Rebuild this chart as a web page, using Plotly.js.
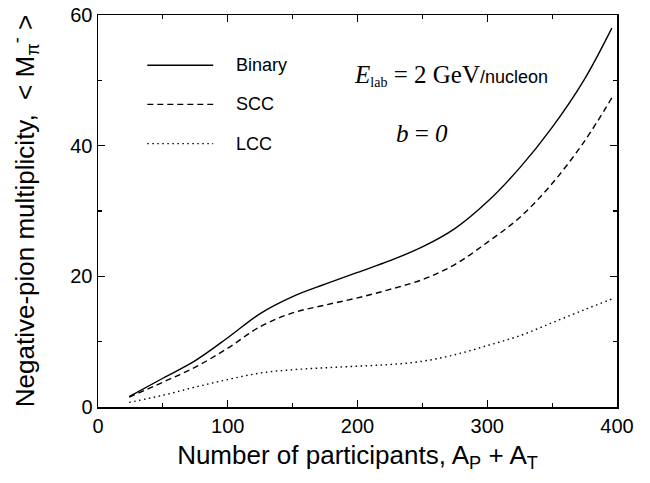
<!DOCTYPE html>
<html><head><meta charset="utf-8">
<script src="https://cdn.plot.ly/plotly-3.0.1.min.js"></script>
<style>html,body{margin:0;padding:0;background:#fff}#plot{width:650px;height:483px}</style>
</head><body><div id="plot"></div>
<script>
// Data
const binaryX = [24, 50, 75, 100, 125, 150, 175, 200, 225, 250, 275, 300, 325, 350, 375, 396];
const binaryY = [1.6, 4.4, 7.1, 10.6, 14.3, 16.9, 18.8, 20.6, 22.4, 24.5, 27.3, 31.4, 36.6, 42.8, 50.2, 58.0];
const sccX = [24, 50, 75, 100, 125, 150, 175, 200, 225, 250, 275, 300, 325, 350, 375, 396];
const sccY = [1.5, 3.8, 6.1, 9.0, 12.3, 14.4, 15.6, 16.7, 18.0, 19.5, 21.8, 25.2, 29.0, 34.2, 40.7, 47.3];
const lccX = [24, 50, 75, 100, 125, 150, 175, 200, 225, 250, 275, 300, 325, 350, 375, 397];
const lccY = [0.7, 1.8, 3.05, 4.2, 5.2, 5.7, 6.0, 6.25, 6.5, 7.0, 8.0, 9.4, 10.9, 12.9, 14.9, 16.6];
const seriesNames = ["Binary", "SCC", "LCC"];
const xTicks = [0, 100, 200, 300, 400];
const yTicks = [0, 20, 40, 60];

const dashes = ["solid", "6px,4px", "1.5px,3.5px"];
const traces = [
  {x: binaryX, y: binaryY, name: seriesNames[0]},
  {x: sccX, y: sccY, name: seriesNames[1]},
  {x: lccX, y: lccY, name: seriesNames[2]}
].map((t, i) => Object.assign(t, {
  type: "scatter", mode: "lines", showlegend: false,
  line: {color: "#000", width: 1.4, dash: dashes[i], shape: "spline", smoothing: 1}
}));

const font = "Liberation Sans, Arial, sans-serif";
// custom legend (paper coords)
const legY = [0.872, 0.772, 0.672];
const shapes = [], annotations = [];
legY.forEach((yy, i) => {
  shapes.push({type: "line", xref: "paper", yref: "paper", x0: 0.095, x1: 0.222, y0: yy, y1: yy,
    line: {color: "#000", width: 1.4, dash: dashes[i]}});
  annotations.push({xref: "paper", yref: "paper", x: 0.263, y: yy, xanchor: "left", yanchor: "middle",
    text: seriesNames[i], showarrow: false, font: {family: font, size: 18, color: "#000"}});
});
annotations.push({xref: "paper", yref: "paper", x: 0.49, y: 0.845, xanchor: "left", yanchor: "middle",
  showarrow: false,
  text: '<span style="font-family:Liberation Serif,Times New Roman,serif;font-style:italic;font-size:25px">E</span><sub><span style="font-family:Liberation Serif,serif;font-size:14px">lab</span></sub><span style="font-family:Liberation Serif,Times New Roman,serif;font-size:25px"> = 2 GeV</span><span style="font-size:18px">/nucleon</span>',
  font: {family: font, size: 18, color: "#000"}});
annotations.push({xref: "paper", yref: "paper", x: 0.624, y: 0.697, xanchor: "center", yanchor: "middle",
  showarrow: false,
  text: '<i>b</i> = <i>0</i>',
  font: {family: "Liberation Serif, Times New Roman, serif", size: 25, color: "#000"}});

const layout = {
  width: 650, height: 483,
  margin: {l: 98, r: 33, t: 15, b: 76},
  paper_bgcolor: "#fff", plot_bgcolor: "#fff",
  font: {family: font, color: "#000"},
  xaxis: {
    range: [0, 400], tickvals: xTicks, ticktext: xTicks.map(String),
    ticks: "inside", ticklen: 7, tickwidth: 1.3, tickcolor: "#000",
    minor: {ticks: "inside", tickvals: [50, 150, 250, 350], ticklen: 4, tickwidth: 1.2, tickcolor: "#000"},
    showline: true, linewidth: 1.5, linecolor: "#000", mirror: "ticks",
    showgrid: false, zeroline: false,
    tickfont: {family: font, size: 20, color: "#000"},
    title: {text: "Number of participants, A<sub>P</sub> + A<sub>T</sub>", font: {family: font, size: 26, color: "#000"}, standoff: 10}
  },
  yaxis: {
    range: [0, 60], tickvals: yTicks, ticktext: yTicks.map(String),
    ticks: "inside", ticklen: 7, tickwidth: 1.3, tickcolor: "#000",
    minor: {ticks: "inside", tickvals: [10, 30, 50], ticklen: 4, tickwidth: 1.2, tickcolor: "#000"},
    showline: true, linewidth: 1.5, linecolor: "#000", mirror: "ticks",
    showgrid: false, zeroline: false,
    tickfont: {family: font, size: 20, color: "#000"},
    title: {text: "Negative-pion multiplicity,  < M<sub>π</sub><sup>-</sup> >", font: {family: font, size: 26, color: "#000"}, standoff: 28}
  },
  shapes: shapes, annotations: annotations
};
Plotly.newPlot("plot", traces, layout, {staticPlot: true, displayModeBar: false});
</script></body></html>
